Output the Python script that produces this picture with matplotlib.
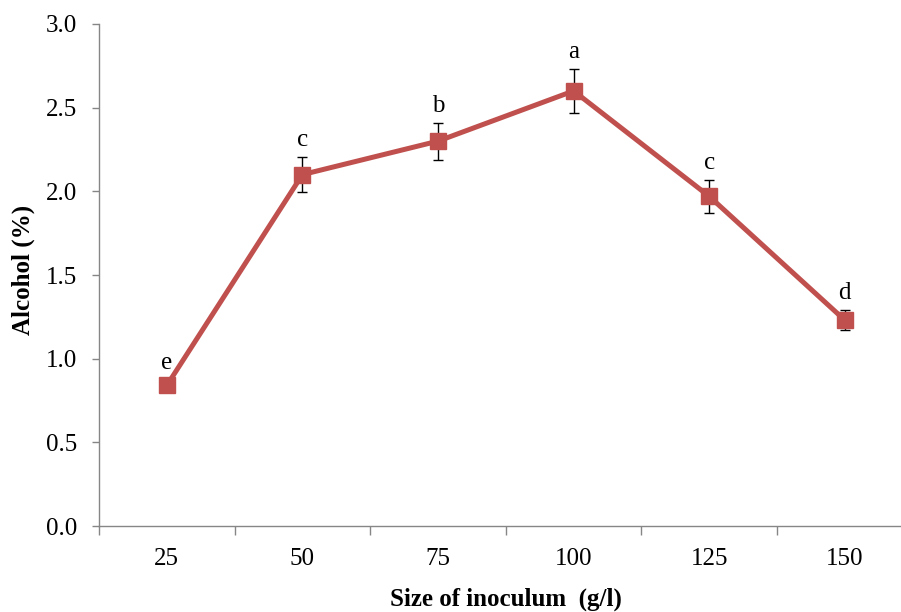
import matplotlib
matplotlib.use("Agg")
import matplotlib.pyplot as plt
import numpy as np

# inoculum sizes (g/l), mean alcohol (%), SD and significance letters
sizes = ["25", "50", "75", "100", "125", "150"]
alcohol = [0.84, 2.10, 2.30, 2.60, 1.97, 1.23]
sd = [0.03, 0.105, 0.11, 0.13, 0.10, 0.06]
letters = ["e", "c", "b", "a", "c", "d"]

plt.rcParams["font.family"] = ["Liberation Serif", "DejaVu Serif"]

fig = plt.figure(figsize=(9.01, 6.12), dpi=100)
ax = fig.add_axes([0.1099, 0.1405, 0.903, 0.8203])

x = np.arange(len(sizes)) + 0.5
ax.errorbar(x, alcohol, yerr=sd, fmt="none", ecolor="black", elinewidth=1.0,
            capsize=3.5, capthick=1.0, zorder=2)
ax.plot(x, alcohol, color="#C0504D", lw=3.6, marker="s", markersize=11.5,
        markerfacecolor="#C0504D", markeredgecolor="#C0504D", zorder=3)

for xi, yi, ei, lab in zip(x, alcohol, sd, letters):
    ax.annotate(lab, (xi, yi + ei), xytext=(0, 8), textcoords="offset points",
                ha="center", va="baseline", fontsize=18)

ax.set_xlim(0, len(sizes))
ax.set_ylim(0, 3.0)
ax.set_yticks(np.arange(0, 3.01, 0.5))
ax.set_yticklabels([f"{v:.1f}" for v in np.arange(0, 3.01, 0.5)])

# category boundaries get the tick marks, labels sit in between
ax.set_xticks(np.arange(0, len(sizes) + 1))
ax.set_xticklabels([])
ax.set_xticks(x, minor=True)
ax.set_xticklabels(sizes, minor=True)

gray = "#868686"
for s in ["top", "right"]:
    ax.spines[s].set_visible(False)
for s in ["left", "bottom"]:
    ax.spines[s].set_color(gray)
    ax.spines[s].set_linewidth(1.0)

ax.tick_params(axis="y", direction="out", length=5, width=1, color=gray,
               labelsize=18, pad=11)
ax.tick_params(axis="x", which="major", direction="out", length=6.5, width=1,
               color=gray)
ax.tick_params(axis="x", which="minor", length=0, labelsize=18, pad=16)

ax.set_ylabel("Alcohol (%)", fontsize=18, fontweight="bold")
ax.set_xlabel("Size of inoculum  (g/l)", fontsize=18, fontweight="bold")
ax.yaxis.set_label_coords(-0.079, 0.51)
ax.xaxis.set_label_coords(0.5, -0.122)

fig.savefig("out.png", dpi=100)
